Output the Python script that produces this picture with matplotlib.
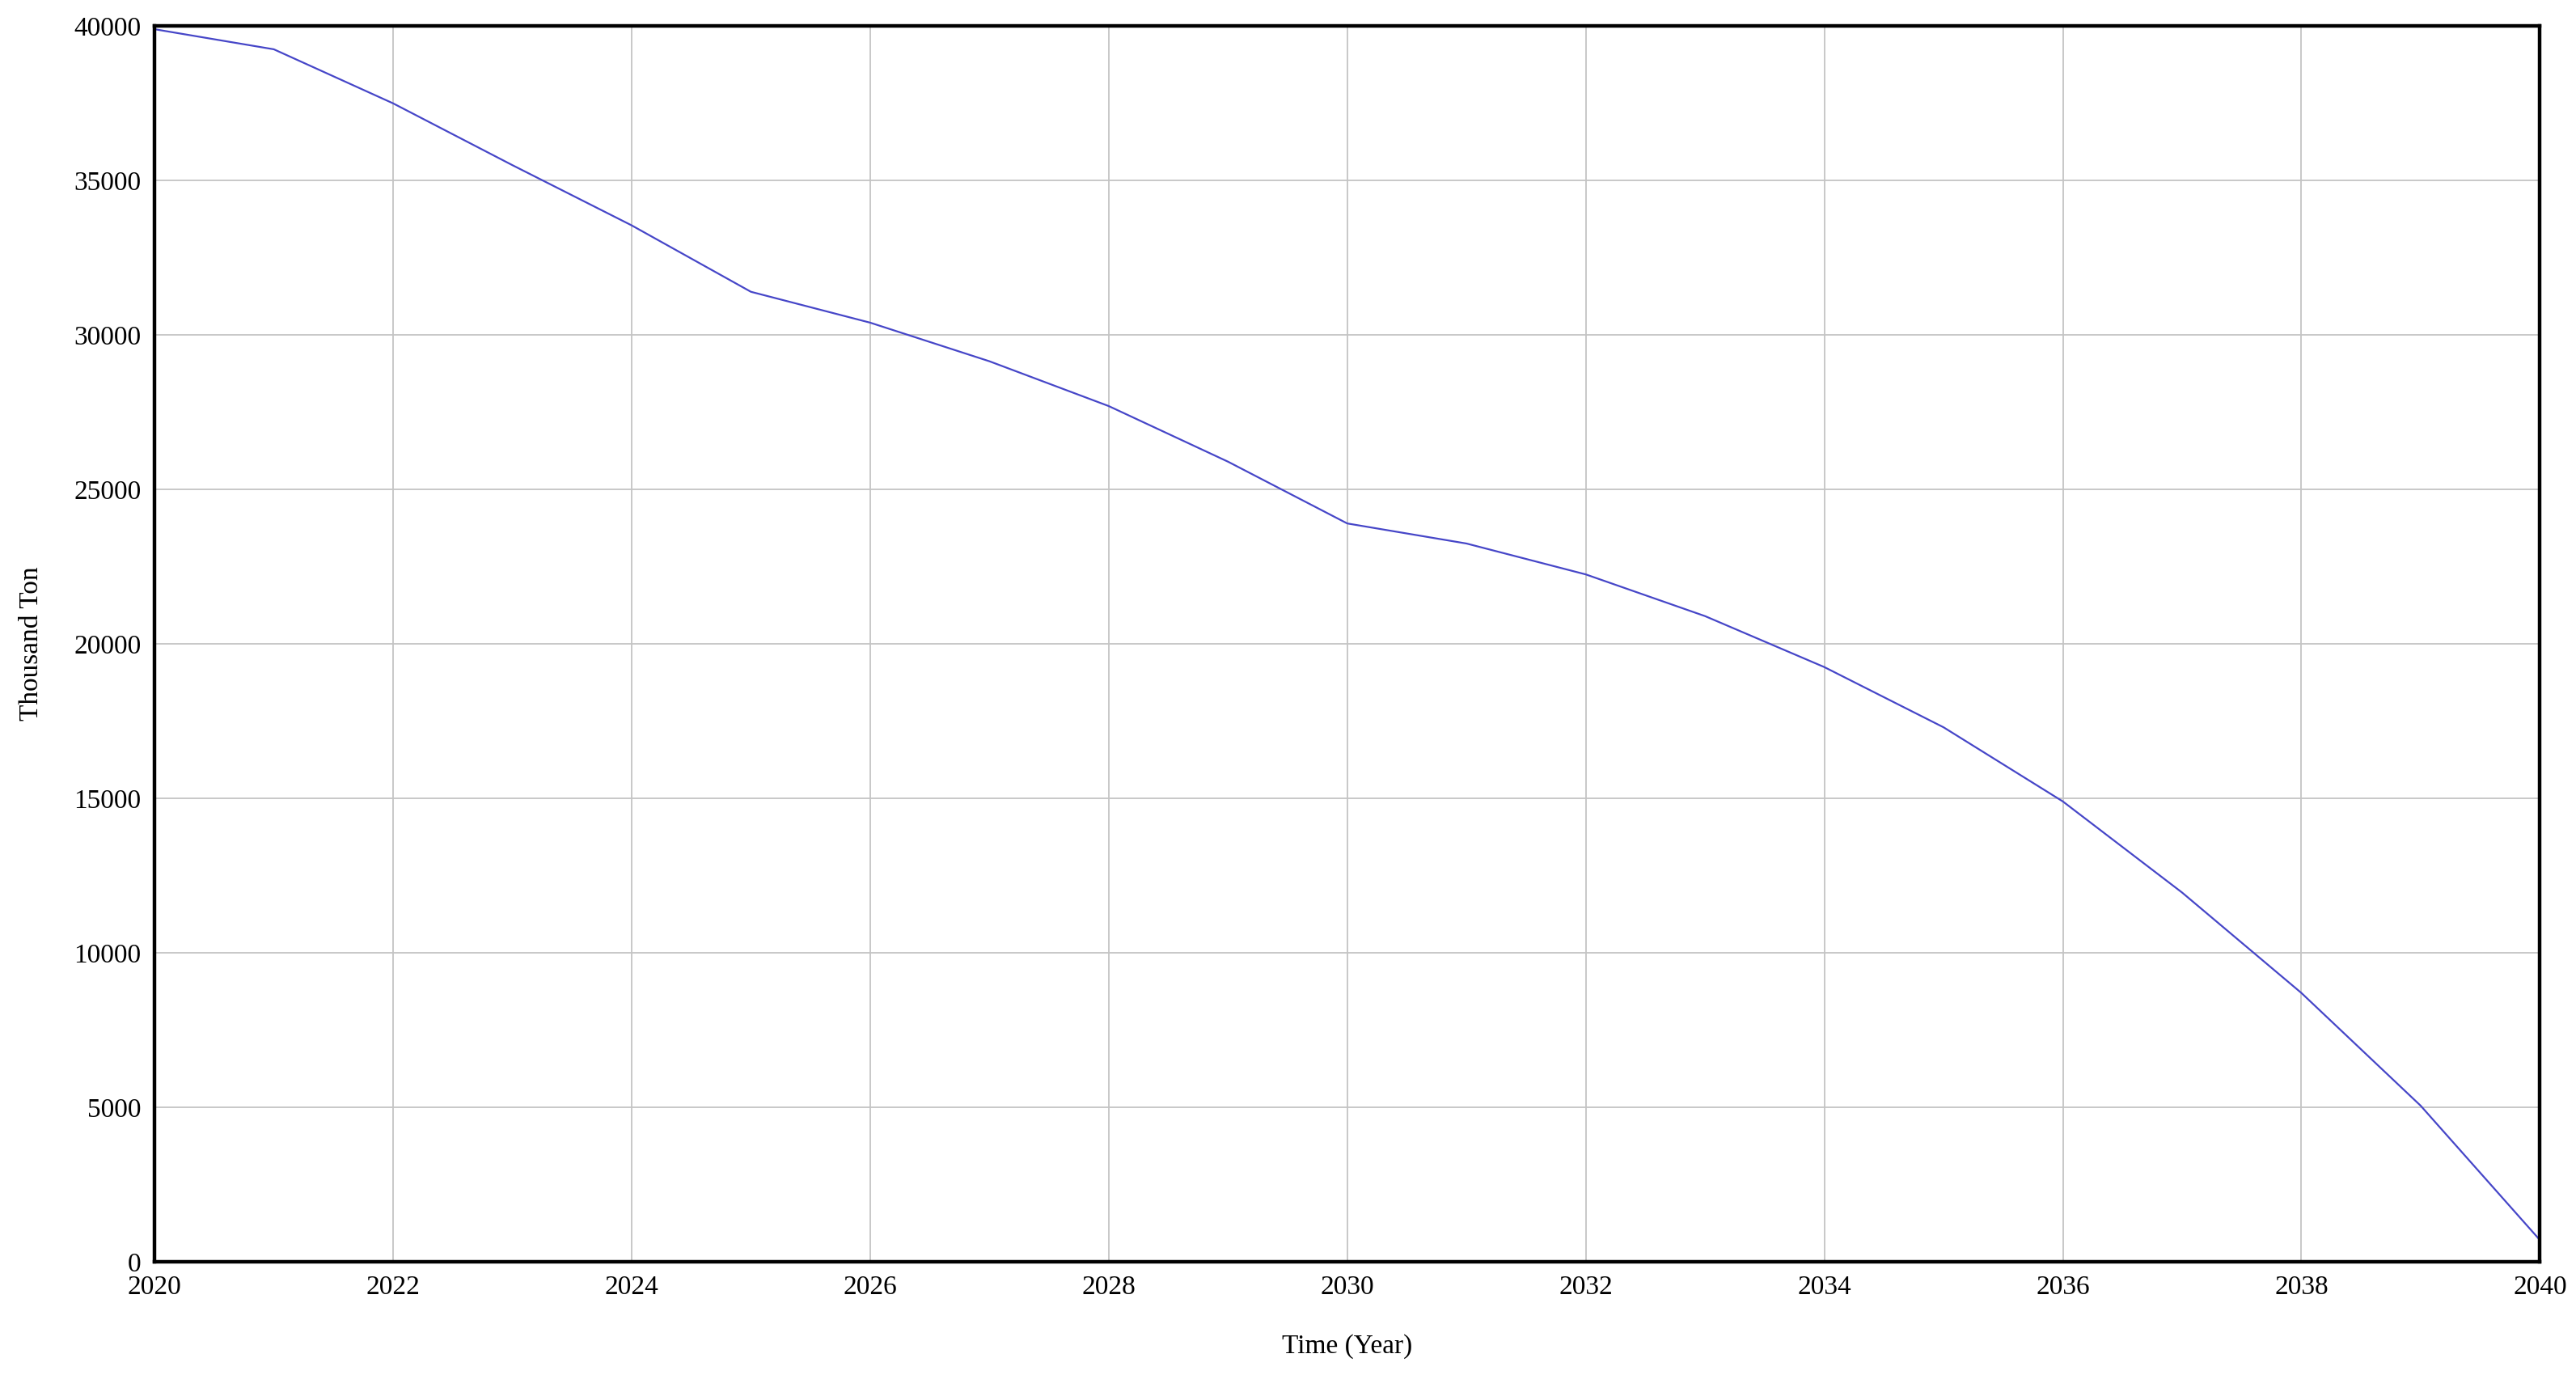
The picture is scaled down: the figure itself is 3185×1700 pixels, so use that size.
import numpy as np
import matplotlib.pyplot as plt

# data
years = np.arange(2020, 2041)
stock = [39900, 39250, 37500, 35500, 33550, 31400, 30400, 29150, 27700, 25900,
         23900, 23250, 22250, 20900, 19250, 17300, 14900, 11950, 8700, 5050, 700]
xticks = list(range(2020, 2041, 2))
yticks = list(range(0, 40001, 5000))

plt.rcParams['font.family'] = ['Liberation Serif', 'DejaVu Serif']

fig = plt.figure(figsize=(31.85, 17), dpi=100)
ax = fig.add_axes([0.060, 0.0824, 0.926, 0.8986])

ax.plot(years, stock, color='#4646c8', lw=1.6)

ax.set_xlim(2020, 2040)
ax.set_ylim(0, 40000)
ax.set_xticks(xticks)
ax.set_yticks(yticks)
ax.tick_params(length=0, labelsize=24, pad=12)
ax.grid(True, color='#c4c4c4', lw=1.3)
for s in ax.spines.values():
    s.set_linewidth(3.2)
    s.set_color('black')

ax.set_xlabel('Time (Year)', fontsize=24, labelpad=30)
ax.set_ylabel('Thousand Ton', fontsize=24)
ax.yaxis.set_label_coords(-0.0465, 0.5)

fig.savefig('out.png', dpi=100)
